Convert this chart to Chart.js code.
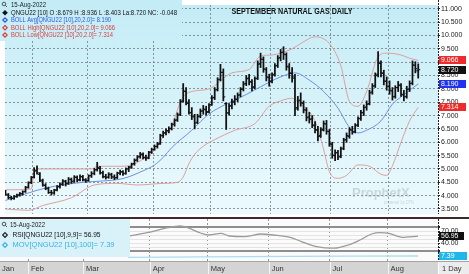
<!DOCTYPE html>
<html>
<head>
<meta charset="utf-8">
<script src="https://cdn.jsdelivr.net/npm/chart.js@4.4.0/dist/chart.umd.min.js"></script>
<style>
  body { margin: 0; background: #fff; }
  #wrap { position: relative; width: 469px; height: 274px; overflow: hidden; }
  #main { position: absolute; left: 0; top: 0; }
  #lower { position: absolute; left: 0; top: 219px; }
</style>
</head>
<body>
<div id="wrap">
  <canvas id="main" width="469" height="219"></canvas>
  <canvas id="lower" width="469" height="55"></canvas>
</div>
<script>
Chart.defaults.font.family = '"Liberation Sans", Arial, sans-serif';

// months shown on the bottom axis and the index of their first bar
const months = ['Jan', 'Feb', 'Mar', 'Apr', 'May', 'Jun', 'Jul', 'Aug'];
const monthStart = [0, 10, 29, 52, 72, 93, 114, 134];
const priceTicks = [3.5, 4, 4.5, 5, 5.5, 6, 6.5, 7, 7.5, 8, 8.5, 9, 9.5, 10, 10.5, 11];
const rsiTicks = [20, 30, 40, 50, 60, 70, 80];
const rsiLabelTicks = [40, 70];

// daily OHLC, QNGU22, mid Jan -> 15 Aug 2022
const opens = [4.10,4.02,3.93,3.90,3.98,4.03,4.06,4.16,4.32,4.50,
  4.70,4.95,4.80,4.55,4.38,4.26,4.12,4.10,4.22,4.33,
  4.44,4.52,4.47,4.60,4.55,4.68,4.60,4.70,4.58,4.58,
  4.75,4.84,4.98,5.02,4.85,4.70,4.70,4.78,4.70,4.68,
  4.85,4.88,4.84,5.00,5.08,5.20,5.34,5.46,5.54,5.42,
  5.42,5.64,5.74,5.85,5.95,6.26,6.36,6.42,6.52,6.68,
  6.84,7.05,7.55,7.90,7.45,7.10,6.95,6.75,6.98,7.18,
  7.22,7.15,7.42,7.68,7.98,8.36,8.62,7.45,7.10,7.38,
  7.52,7.60,7.78,8.00,8.20,8.40,8.25,8.08,8.40,8.95,
  9.10,8.72,8.42,8.30,8.55,8.88,9.18,9.38,9.28,8.82,
  8.58,8.40,7.30,7.58,7.45,7.20,6.95,6.88,6.62,6.45,
  6.25,6.48,6.68,6.40,5.92,5.50,5.60,5.48,5.78,6.10,
  6.22,6.45,6.40,6.65,6.90,7.10,7.32,7.45,7.88,8.12,
  8.55,8.95,8.58,8.28,8.08,7.92,7.72,8.05,8.12,7.78,
  7.72,8.00,8.22,8.88,8.679];
const highs = [4.20,4.08,3.98,4.00,4.06,4.12,4.18,4.35,4.52,4.72,
  5.05,5.12,4.86,4.62,4.45,4.32,4.20,4.24,4.38,4.48,
  4.60,4.58,4.68,4.66,4.75,4.74,4.78,4.76,4.64,4.78,
  4.90,5.02,5.25,5.10,4.92,4.80,4.86,4.84,4.78,4.88,
  4.96,4.94,5.04,5.10,5.22,5.38,5.50,5.62,5.60,5.52,
  5.66,5.78,5.90,6.00,6.30,6.42,6.50,6.58,6.72,6.88,
  7.10,7.60,8.20,8.05,7.60,7.30,7.05,7.05,7.25,7.38,
  7.35,7.45,7.75,8.05,8.42,8.92,8.75,7.48,7.45,7.62,
  7.75,7.85,8.05,8.28,8.50,8.55,8.35,8.45,9.05,9.34,
  9.20,8.80,8.55,8.60,8.95,9.25,9.48,9.58,9.35,8.95,
  8.80,8.55,7.72,7.85,7.55,7.30,7.12,7.00,6.78,6.60,
  6.55,6.80,6.82,6.48,6.00,5.72,5.70,5.82,6.15,6.35,
  6.55,6.60,6.70,6.95,7.20,7.40,7.55,7.95,8.20,8.60,
  9.40,9.05,8.70,8.45,8.30,8.05,8.12,8.28,8.20,7.95,
  8.10,8.30,9.05,9.02,8.936];
const lows = [4.02,3.88,3.84,3.86,3.93,3.98,4.02,4.12,4.28,4.45,
  4.66,4.80,4.52,4.35,4.22,4.08,4.02,4.05,4.18,4.28,
  4.38,4.36,4.42,4.46,4.50,4.52,4.55,4.55,4.50,4.54,
  4.68,4.78,4.92,4.80,4.66,4.62,4.65,4.64,4.60,4.64,
  4.78,4.76,4.80,4.90,5.02,5.14,5.28,5.40,5.38,5.32,
  5.38,5.58,5.70,5.78,5.92,6.18,6.28,6.35,6.46,6.60,
  6.78,7.00,7.50,7.40,7.05,6.85,6.50,6.70,6.92,7.05,
  7.02,7.10,7.38,7.60,7.92,8.30,7.55,6.48,7.02,7.25,
  7.40,7.52,7.70,7.92,8.12,8.15,7.92,8.00,8.35,8.80,
  8.62,8.30,8.10,8.22,8.48,8.80,9.05,9.10,8.70,8.40,
  8.25,7.00,7.20,7.35,7.10,6.80,6.72,6.55,6.35,6.05,
  6.18,6.42,6.30,5.85,5.40,5.31,5.35,5.42,5.72,6.00,
  6.15,6.30,6.35,6.58,6.82,7.00,7.20,7.40,7.80,8.05,
  8.45,8.45,8.15,7.95,7.80,7.58,7.65,7.90,7.72,7.55,
  7.65,7.90,8.15,8.60,8.403];
const closes = [4.05,3.92,3.90,3.97,4.02,4.08,4.14,4.30,4.48,4.68,
  4.92,4.85,4.58,4.40,4.28,4.12,4.10,4.20,4.34,4.42,
  4.55,4.45,4.62,4.52,4.70,4.58,4.72,4.60,4.56,4.74,
  4.82,4.96,5.05,4.86,4.72,4.68,4.80,4.70,4.66,4.84,
  4.90,4.82,5.00,5.06,5.18,5.32,5.45,5.56,5.44,5.40,
  5.62,5.72,5.84,5.92,6.24,6.34,6.44,6.50,6.66,6.82,
  7.02,7.52,7.92,7.50,7.12,6.98,6.72,6.96,7.16,7.24,
  7.12,7.40,7.66,7.96,8.34,8.62,7.70,7.10,7.35,7.50,
  7.62,7.76,7.98,8.18,8.38,8.28,8.06,8.38,8.92,9.12,
  8.75,8.45,8.28,8.52,8.86,9.15,9.36,9.30,8.85,8.60,
  8.45,7.25,7.55,7.48,7.22,6.92,6.85,6.65,6.48,6.22,
  6.45,6.70,6.42,5.95,5.52,5.62,5.45,5.75,6.08,6.25,
  6.48,6.38,6.62,6.88,7.12,7.30,7.42,7.85,8.10,8.50,
  9.00,8.60,8.30,8.10,7.95,7.70,8.05,8.15,7.80,7.70,
  7.98,8.20,8.90,8.76,8.720];

// bollinger bands (20, 2.0) at these bar indexes
const avgIdx = [0, 11, 17, 27, 34, 41, 48, 52, 55, 58, 65, 71, 77, 84, 89, 96, 101, 106, 111, 116, 120, 123, 126, 131, 135, 138, 144];
const avgVals = [3.82, 4.20, 4.35, 4.50, 4.55, 4.64, 4.93, 5.15, 5.43, 5.80, 6.45, 7.06, 7.43, 7.79, 8.08, 8.45, 8.60, 8.33, 7.90, 7.28, 6.56, 6.35, 6.45, 6.80, 7.43, 7.70, 8.19];
const upIdx = [0, 9, 10, 11, 30, 32, 40, 44, 48, 52, 55, 58, 61, 63, 71, 79, 85, 89, 93, 96, 100, 103, 108, 113, 117, 120, 123, 126, 130, 133, 138, 141, 144];
const upVals = [4.22, 4.25, 4.90, 5.00, 5.00, 5.10, 5.10, 5.15, 5.37, 5.70, 6.20, 6.60, 7.50, 7.82, 8.00, 8.60, 8.73, 9.23, 9.27, 9.34, 9.50, 9.70, 9.95, 9.70, 8.87, 7.53, 7.35, 7.90, 9.20, 9.34, 9.27, 9.15, 9.066];
const lowIdx = [0, 8, 13, 23, 31, 39, 46, 55, 60, 62, 64, 66, 69, 73, 80, 87, 92, 96, 100, 103, 108, 111, 113, 116, 119, 123, 127, 131, 133, 135, 138, 141, 144];
const lowVals = [3.50, 3.45, 3.63, 3.92, 4.40, 4.46, 4.40, 4.46, 4.50, 4.70, 5.20, 5.55, 5.85, 6.10, 6.45, 6.70, 7.35, 7.55, 7.65, 7.43, 6.80, 5.73, 4.90, 4.65, 4.76, 5.15, 5.10, 4.80, 4.76, 5.12, 6.00, 6.80, 7.314];

// lower pane: RSI(9,9) and MOV(100)
const rsiIdx = [44, 52, 57, 62, 65, 69, 72, 76, 79, 84, 90, 94, 100, 104, 109, 115, 120, 124, 128, 131, 134, 139, 142, 144];
const rsiVals = [57, 68, 77, 82.5, 77, 65, 60, 64, 57.5, 56, 62.5, 60, 54, 43, 31, 27, 35, 47.5, 62.5, 66, 64, 54, 56, 56.95];
const movIdx = [44, 70, 100, 120, 144];
const movVals = [4.85, 5.6, 6.6, 7.1, 7.39];

// last values flagged on the axes
const mainAxisValues = [9.066, 8.720, 8.190, 7.314];
const rsiLast = 56.95;
const movLast = 7.39;

const X_MIN = -0.17, X_MAX = 150.9;
const FONT = '"Liberation Sans", Arial, sans-serif';

const pts = (idx, vals) => idx.map((x, k) => ({ x: x, y: vals[k] }));

function monthGrid() {
  return {
    type: 'linear', min: X_MIN, max: X_MAX, offset: false,
    afterBuildTicks: s => {
      s.ticks = monthStart.map(m => m - 0.5).filter(v => v > X_MIN).map(v => ({ value: v }));
    },
    ticks: { display: false },
    grid: { offset: false, color: 'rgba(105,118,124,0.75)', lineWidth: 1, drawTicks: false },
    border: { display: false, dash: [2, 2] }
  };
}

function diamond(ctx, x, y, r, fill, stroke) {
  ctx.beginPath();
  ctx.moveTo(x, y - r); ctx.lineTo(x + r, y); ctx.lineTo(x, y + r); ctx.lineTo(x - r, y);
  ctx.closePath();
  if (fill) { ctx.fillStyle = fill; ctx.fill(); }
  if (stroke) { ctx.strokeStyle = stroke; ctx.lineWidth = 1.2; ctx.stroke(); }
}

function magnifier(ctx, x, y) {
  ctx.strokeStyle = '#555';
  ctx.lineWidth = 1;
  ctx.beginPath(); ctx.arc(x, y, 1.8, 0, Math.PI * 2); ctx.stroke();
  ctx.beginPath(); ctx.moveTo(x + 1.3, y + 1.3); ctx.lineTo(x + 3, y + 3); ctx.stroke();
}

function axisLine(ctx, x, y1, y2) {
  ctx.save();
  ctx.strokeStyle = '#222';
  ctx.lineWidth = 1;
  ctx.setLineDash([2, 1]);
  ctx.beginPath(); ctx.moveTo(x, y1); ctx.lineTo(x, y2); ctx.stroke();
  ctx.restore();
}

function valueBox(ctx, y, w, color, text) {
  ctx.fillStyle = color;
  ctx.fillRect(439, Math.round(y) - 4, w, 8);
  ctx.fillStyle = '#fff';
  ctx.font = '7px ' + FONT;
  ctx.textAlign = 'left';
  ctx.textBaseline = 'middle';
  ctx.fillText(text, 441, Math.round(y) + 0.5);
}

const mainDecor = {
  id: 'mainDecor',
  beforeDraw(chart) {
    const { ctx, chartArea: a } = chart;
    const g = ctx.createLinearGradient(0, a.top, 0, a.bottom);
    g.addColorStop(0, '#c4ecf6');
    g.addColorStop(1, '#ecfafd');
    chart.$bg = g;
    ctx.save();
    ctx.fillStyle = g;
    ctx.fillRect(a.left, a.top, a.right - a.left, a.bottom - a.top);
    ctx.restore();
  },
  beforeDatasetsDraw(chart) {
    const ctx = chart.ctx;
    ctx.save();
    ctx.textBaseline = 'middle';
    ctx.fillStyle = 'rgba(150,165,172,0.4)';
    ctx.font = 'bold 13px ' + FONT;
    ctx.fillText('ProphetX', 352, 193, 68);
    ctx.font = '5px ' + FONT;
    ctx.fillText('powered by DTN', 384, 203, 30);
    ctx.restore();
  },
  afterDraw(chart) {
    const { ctx, chartArea: a, scales } = chart;
    ctx.save();
    // legend block
    ctx.fillStyle = chart.$bg;
    ctx.fillRect(0, 0, 182, 41);
    ctx.textBaseline = 'middle';
    ctx.textAlign = 'left';
    magnifier(ctx, 4, 4);
    ctx.font = '7px ' + FONT;
    ctx.fillStyle = '#222';
    ctx.fillText('15-Aug-2022', 11, 5, 35);
    diamond(ctx, 5, 12.7, 2.8, '#111', null);
    ctx.fillStyle = '#111';
    ctx.fillText('QNGU22 [10] O :8.679 H :8.936 L :8.403 La:8.720 NC: -0.048', 11, 12.7, 166);
    diamond(ctx, 5, 20, 2.2, null, '#2f55e4');
    ctx.fillStyle = '#2f55e4';
    ctx.fillText('BOLL Avg[QNGU22 [10],20,2.0]= 8.190', 11, 20, 100);
    diamond(ctx, 5, 27.7, 2.2, null, '#d9413f');
    ctx.fillStyle = '#d9413f';
    ctx.fillText('BOLL High[QNGU22 [10],20,2.0]= 9.066', 11, 27.7, 104);
    diamond(ctx, 5, 35, 2.2, null, '#d9413f');
    ctx.fillText('BOLL Low[QNGU22 [10],20,2.0]= 7.314', 11, 35, 102);
    // title
    ctx.fillStyle = '#111';
    ctx.font = 'bold 8.5px ' + FONT;
    ctx.textAlign = 'center';
    ctx.fillText('SEPTEMBER NATURAL GAS DAILY', 292, 11.5, 121);
    // axis line and last-value boxes
    axisLine(ctx, a.right + 0.5, 0, a.bottom);
    const boxColors = ['#ee2a2a', '#111111', '#1f33f0', '#ee2a2a'];
    mainAxisValues.forEach((v, k) => {
      valueBox(ctx, scales.y.getPixelForValue(v), 27, boxColors[k], v.toFixed(3));
    });
    // pane separator
    ctx.fillStyle = '#3c2b2b';
    ctx.fillRect(0, 217, 469, 2);
    ctx.restore();
  }
};

const lowerDecor = {
  id: 'lowerDecor',
  beforeDraw(chart) {
    const { ctx, chartArea: a } = chart;
    ctx.save();
    ctx.fillStyle = '#fbfbfb';
    ctx.fillRect(a.left, a.top, a.right - a.left, a.bottom - a.top);
    ctx.restore();
  },
  afterDraw(chart) {
    const { ctx, chartArea: a, scales } = chart;
    ctx.save();
    // legend block
    ctx.fillStyle = '#d9f1f8';
    ctx.fillRect(0, 0, 130, 38);
    ctx.textBaseline = 'middle';
    ctx.textAlign = 'left';
    magnifier(ctx, 4, 5);
    ctx.font = '7.5px ' + FONT;
    ctx.fillStyle = '#222';
    ctx.fillText('15-Aug-2022', 10, 6, 35);
    diamond(ctx, 5, 16, 2.3, null, '#222');
    ctx.fillStyle = '#111';
    ctx.fillText('RSI[QNGU22 [10],9,9]= 56.95', 12.5, 16, 88);
    diamond(ctx, 5, 26, 2.3, null, '#3ab3e6');
    ctx.fillStyle = '#3ab3e6';
    ctx.fillText('MOV[QNGU22 [10],100]= 7.39', 12.5, 26, 102);
    // axis
    axisLine(ctx, a.right + 0.5, 0, a.bottom);
    valueBox(ctx, scales.y.getPixelForValue(rsiLast), 25, '#111111', rsiLast.toFixed(2));
    valueBox(ctx, scales.y2.getPixelForValue(movLast), 28, '#1fb6ec', movLast.toFixed(2));
    // month band
    const top = a.bottom;
    ctx.fillStyle = '#d4d4d4';
    ctx.fillRect(0, top, a.right, 13);
    ctx.fillStyle = '#a5a5a5';
    ctx.fillRect(0, top, 469, 1);
    ctx.font = '7.5px ' + FONT;
    months.forEach((m, k) => {
      const px = scales.x.getPixelForValue(monthStart[k] - 0.5);
      if (k > 0) {
        ctx.fillStyle = '#f4f4f4';
        ctx.fillRect(Math.round(px), top + 1, 1, 12);
      }
      ctx.fillStyle = '#333';
      ctx.fillText(m, px + 3, top + 7.5);
    });
    ctx.fillStyle = '#ececec';
    ctx.fillRect(a.right + 1, top + 1, 469 - a.right - 1, 12);
    ctx.fillStyle = '#333';
    ctx.fillText('1 Day', 442, top + 7.5);
    ctx.restore();
  }
};

const hlData = highs.map((h, i) => ({ x: i, y: [lows[i], h] }));
const openData = opens.map((o, i) => ({ x: i - 0.35, y: o }));
const closeData = closes.map((c, i) => ({ x: i + 0.35, y: c }));

const tickDot = {
  showLine: false, pointStyle: 'line', pointRadius: 1,
  pointBorderWidth: 1, pointBorderColor: '#111', pointBackgroundColor: '#111'
};
const bandLine = { borderWidth: 1, pointRadius: 0, cubicInterpolationMode: 'monotone', fill: false };

new Chart(document.getElementById('main'), {
  type: 'line',
  data: {
    datasets: [
      { type: 'bar', data: hlData, backgroundColor: '#111', barThickness: 1.1, borderWidth: 0, order: 0 },
      Object.assign({ data: openData, order: 1 }, tickDot),
      Object.assign({ data: closeData, order: 2 }, tickDot),
      Object.assign({ data: pts(avgIdx, avgVals), borderColor: '#6f90e2', order: 3 }, bandLine),
      Object.assign({ data: pts(upIdx, upVals), borderColor: '#dea0a0', order: 4 }, bandLine),
      Object.assign({ data: pts(lowIdx, lowVals), borderColor: '#dea0a0', order: 5 }, bandLine)
    ]
  },
  options: {
    responsive: false,
    animation: false,
    devicePixelRatio: 1,
    layout: { padding: { left: 0, right: 0, top: 0, bottom: 2 } },
    plugins: { legend: { display: false }, tooltip: { enabled: false } },
    scales: {
      x: monthGrid(),
      y: {
        position: 'right', min: 3.312, max: 11.144, beginAtZero: false,
        afterBuildTicks: s => { s.ticks = priceTicks.map(v => ({ value: v })); },
        afterFit: s => { s.width = 31; s.paddingTop = 0; s.paddingBottom = 0; },
        ticks: { autoSkip: false, padding: 1, color: '#1a1a1a', font: { size: 7 }, callback: v => v.toFixed(3) },
        grid: { color: 'rgba(105,118,124,0.75)', lineWidth: 1, tickLength: 2, tickColor: '#222', tickWidth: 1 },
        border: { display: false, dash: [2, 2] }
      }
    }
  },
  plugins: [mainDecor]
});

new Chart(document.getElementById('lower'), {
  type: 'line',
  data: {
    datasets: [
      { data: pts(rsiIdx, rsiVals), yAxisID: 'y', borderColor: '#9b9b9b', borderWidth: 1.3, pointRadius: 0, cubicInterpolationMode: 'monotone' },
      { data: pts(movIdx, movVals), yAxisID: 'y2', borderColor: '#a9def2', borderWidth: 1.3, pointRadius: 0 }
    ]
  },
  options: {
    responsive: false,
    animation: false,
    devicePixelRatio: 1,
    layout: { padding: { left: 0, right: 0, top: 0, bottom: 13 } },
    plugins: { legend: { display: false }, tooltip: { enabled: false } },
    scales: {
      x: monthGrid(),
      y: {
        position: 'right', min: -5, max: 100, beginAtZero: false,
        afterBuildTicks: s => { s.ticks = rsiTicks.map(v => ({ value: v })); },
        afterFit: s => { s.width = 31; s.paddingTop = 0; s.paddingBottom = 0; },
        ticks: { autoSkip: false, padding: 1, color: '#1a1a1a', font: { size: 7 },
          callback: v => rsiLabelTicks.includes(v) ? v.toFixed(2) : '' },
        grid: {
          color: c => (c.tick && (c.tick.value === 20 || c.tick.value === 80)) ? '#8e8e8e' : '#e4e4e4',
          lineWidth: c => (c.tick && (c.tick.value === 20 || c.tick.value === 80)) ? 2 : 1,
          tickLength: 2, tickColor: '#222'
        },
        border: { display: false }
      },
      y2: { display: false, min: -2.1, max: 77.9 }
    }
  },
  plugins: [lowerDecor]
});
</script>
</body>
</html>
